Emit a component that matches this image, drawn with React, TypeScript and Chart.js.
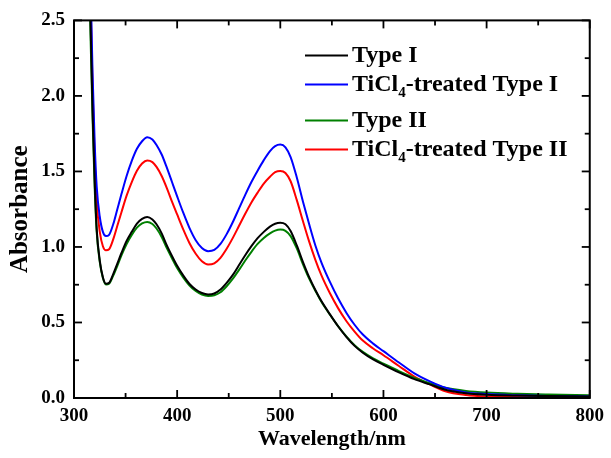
import React, { useEffect, useRef } from "react";
import { Chart, registerables } from "chart.js";

Chart.register(...registerables);

const wavelengths = [
  310, 313, 316, 318, 320, 322, 325, 328, 331, 334,
  338, 342, 346, 351, 356, 361, 366, 371, 376, 380,
  385, 390, 395, 400, 406, 412, 418, 424, 430, 436,
  442, 448, 454, 460, 466, 472, 478, 484, 490, 495,
  500, 505, 510, 516, 522, 528, 534, 540, 548, 556,
  564, 572, 580, 590, 600, 615, 630, 645, 660, 680,
  700, 730, 760, 800,
];

const typeI = [
  4.5, 3.5, 2.5, 1.9, 1.45, 1.12, 0.91, 0.8, 0.757, 0.762,
  0.82, 0.89, 0.96, 1.04, 1.1, 1.155, 1.186, 1.198, 1.182, 1.15,
  1.09, 1.01, 0.94, 0.875, 0.81, 0.755, 0.718, 0.695, 0.686, 0.692,
  0.718, 0.762, 0.815, 0.88, 0.945, 1.005, 1.058, 1.1, 1.135, 1.154,
  1.16, 1.15, 1.105, 1.01, 0.9, 0.8, 0.715, 0.64, 0.555, 0.475,
  0.405, 0.345, 0.3, 0.255, 0.22, 0.17, 0.125, 0.09, 0.055, 0.032,
  0.022, 0.016, 0.013, 0.01,
];

const ticl4TypeI = [
  4.8, 3.8, 2.75, 2.15, 1.7, 1.4, 1.2, 1.1, 1.072, 1.08,
  1.15, 1.25, 1.35, 1.47, 1.57, 1.65, 1.7, 1.727, 1.712, 1.675,
  1.612, 1.525, 1.43, 1.335, 1.225, 1.125, 1.045, 0.993, 0.972, 0.98,
  1.02, 1.085, 1.165, 1.255, 1.345, 1.43, 1.505, 1.575, 1.635, 1.668,
  1.678, 1.66, 1.595, 1.46, 1.3, 1.15, 1.01, 0.895, 0.77, 0.66,
  0.565, 0.485, 0.42, 0.36, 0.31, 0.235, 0.163, 0.11, 0.068, 0.037,
  0.026, 0.018, 0.013, 0.01,
];

const typeII = [
  4.4, 3.4, 2.4, 1.85, 1.4, 1.1, 0.9, 0.795, 0.752, 0.757,
  0.81, 0.875, 0.945, 1.02, 1.08, 1.128, 1.156, 1.166, 1.152, 1.122,
  1.066, 0.992, 0.925, 0.86, 0.797, 0.745, 0.708, 0.685, 0.676, 0.68,
  0.7, 0.74, 0.79, 0.848, 0.91, 0.968, 1.02, 1.06, 1.09, 1.108,
  1.115, 1.107, 1.072, 0.99, 0.885, 0.79, 0.71, 0.635, 0.553, 0.476,
  0.408, 0.35, 0.305, 0.262, 0.228, 0.178, 0.133, 0.098, 0.068, 0.047,
  0.036, 0.028, 0.023, 0.018,
];

const ticl4TypeII = [
  4.7, 3.7, 2.65, 2.05, 1.6, 1.3, 1.1, 1.005, 0.978, 0.985,
  1.05, 1.14, 1.23, 1.34, 1.43, 1.505, 1.553, 1.573, 1.562, 1.53,
  1.47, 1.39, 1.3, 1.215, 1.115, 1.025, 0.955, 0.905, 0.884, 0.892,
  0.928, 0.988, 1.06, 1.14, 1.22, 1.295, 1.36, 1.42, 1.465, 1.495,
  1.503, 1.49, 1.435, 1.31, 1.17, 1.035, 0.915, 0.81, 0.695, 0.595,
  0.51, 0.44, 0.38, 0.328, 0.283, 0.212, 0.142, 0.09, 0.045, 0.02,
  0.01, 0.006, 0.005, 0.005,
];

const xMajorTicks = [300, 400, 500, 600, 700, 800];
const xMinorTicks = [350, 450, 550, 650, 750];
const yMajorTicks = [0, 0.5, 1.0, 1.5, 2.0, 2.5];
const yMinorTicks = [0.25, 0.75, 1.25, 1.75, 2.25];

const seriesNames = ["Type I", "TiCl4-treated Type I", "Type II", "TiCl4-treated Type II"];
const seriesColors = ["#000000", "#0000ff", "#008000", "#ff0000"];
const seriesValues = [typeI, ticl4TypeI, typeII, ticl4TypeII];

const SERIF = "'Liberation Serif', 'Times New Roman', serif";

const framePlugin = {
  id: "frameTicks",
  afterDatasetsDraw(chart: any) {
    const { ctx, chartArea, scales } = chart;
    const { left, right, top, bottom } = chartArea;
    const x = scales.x;
    const y = scales.y;
    ctx.save();
    ctx.strokeStyle = "#000";
    ctx.lineWidth = 2;
    ctx.strokeRect(left, top, right - left, bottom - top);
    ctx.lineWidth = 1.8;
    const seg = (x1: number, y1: number, x2: number, y2: number) => {
      ctx.beginPath();
      ctx.moveTo(x1, y1);
      ctx.lineTo(x2, y2);
      ctx.stroke();
    };
    const major = 8;
    const minor = 5;
    xMajorTicks.forEach((v) => {
      const p = x.getPixelForValue(v);
      seg(p, bottom, p, bottom - major);
      seg(p, top, p, top + major);
    });
    xMinorTicks.forEach((v) => {
      const p = x.getPixelForValue(v);
      seg(p, bottom, p, bottom - minor);
      seg(p, top, p, top + minor);
    });
    yMajorTicks.forEach((v) => {
      const p = y.getPixelForValue(v);
      seg(left, p, left + major, p);
      seg(right, p, right - major, p);
    });
    yMinorTicks.forEach((v) => {
      const p = y.getPixelForValue(v);
      seg(left, p, left + minor, p);
      seg(right, p, right - minor, p);
    });
    ctx.restore();
  },
};

const legendPlugin = {
  id: "customLegend",
  afterDraw(chart: any) {
    const { ctx, chartArea } = chart;
    const rowsY = [35, 64, 100, 129];
    const lineX0 = chartArea.left + 231;
    const lineX1 = lineX0 + 43;
    const textX = lineX1 + 4;
    const fontSize = 24;
    ctx.save();
    seriesNames.forEach((name, i) => {
      const yy = chartArea.top + rowsY[i];
      ctx.strokeStyle = seriesColors[i];
      ctx.lineWidth = 2;
      ctx.beginPath();
      ctx.moveTo(lineX0, yy);
      ctx.lineTo(lineX1, yy);
      ctx.stroke();
      ctx.fillStyle = "#000";
      ctx.textBaseline = "alphabetic";
      ctx.textAlign = "left";
      const base = yy + 7;
      let cx = textX;
      if (name.indexOf("TiCl4") === 0) {
        ctx.font = `bold ${fontSize}px ${SERIF}`;
        ctx.fillText("TiCl", cx, base);
        cx += ctx.measureText("TiCl").width;
        ctx.font = `bold ${Math.round(fontSize * 0.62)}px ${SERIF}`;
        ctx.fillText("4", cx, base + 6);
        cx += ctx.measureText("4").width;
        ctx.font = `bold ${fontSize}px ${SERIF}`;
        ctx.fillText(name.slice(5), cx, base);
      } else {
        ctx.font = `bold ${fontSize}px ${SERIF}`;
        ctx.fillText(name, cx, base);
      }
    });
    ctx.restore();
  },
};

export default function App() {
  const canvasRef = useRef<HTMLCanvasElement | null>(null);

  useEffect(() => {
    const canvas = canvasRef.current;
    if (!canvas) return;
    const datasets = seriesNames.map((name, i) => ({
      label: name,
      data: wavelengths.map((w, j) => ({ x: w, y: seriesValues[i][j] })),
      borderColor: seriesColors[i],
      backgroundColor: seriesColors[i],
      borderWidth: 2,
      pointRadius: 0,
      cubicInterpolationMode: "monotone" as const,
      fill: false,
    }));

    const chart = new Chart(canvas, {
      type: "line",
      data: { datasets },
      options: {
        animation: false,
        responsive: false,
        devicePixelRatio: 1,
        layout: { padding: { top: 16, right: 17, left: 0, bottom: 0 } },
        plugins: {
          legend: { display: false },
          tooltip: { enabled: false },
        },
        scales: {
          x: {
            type: "linear",
            min: 300,
            max: 800,
            afterFit: (scale: any) => {
              scale.height = 60;
            },
            afterBuildTicks: (scale: any) => {
              scale.ticks = xMajorTicks.map((v) => ({ value: v }));
            },
            grid: { display: false, drawTicks: false },
            border: { display: false },
            ticks: {
              color: "#000",
              padding: 7,
              maxRotation: 0,
              font: { family: SERIF, size: 19, weight: "bold" },
              callback: (v: any) => String(v),
            },
            title: {
              display: true,
              text: "Wavelength/nm",
              color: "#000",
              font: { family: SERIF, size: 22, weight: "bold" },
              padding: { top: 0, bottom: 5 },
            },
          },
          y: {
            type: "linear",
            min: 0,
            max: 2.5,
            afterFit: (scale: any) => {
              scale.width = 74;
            },
            afterBuildTicks: (scale: any) => {
              scale.ticks = yMajorTicks.map((v) => ({ value: v }));
            },
            grid: { display: false, drawTicks: false },
            border: { display: false },
            ticks: {
              color: "#000",
              padding: 9,
              font: { family: SERIF, size: 19, weight: "bold" },
              callback: (v: any) => Number(v).toFixed(1),
            },
            title: {
              display: true,
              text: "Absorbance",
              color: "#000",
              font: { family: SERIF, size: 25, weight: "bold" },
              padding: { top: 6, bottom: 0 },
            },
          },
        },
      },
      plugins: [framePlugin, legendPlugin],
    });
    return () => chart.destroy();
  }, []);

  return (
    <div
      style={{
        position: "fixed",
        left: 0,
        top: 0,
        width: 611,
        height: 458,
        background: "#fff",
      }}
    >
      <canvas ref={canvasRef} width={611} height={458} style={{ width: 611, height: 458 }} />
    </div>
  );
}
